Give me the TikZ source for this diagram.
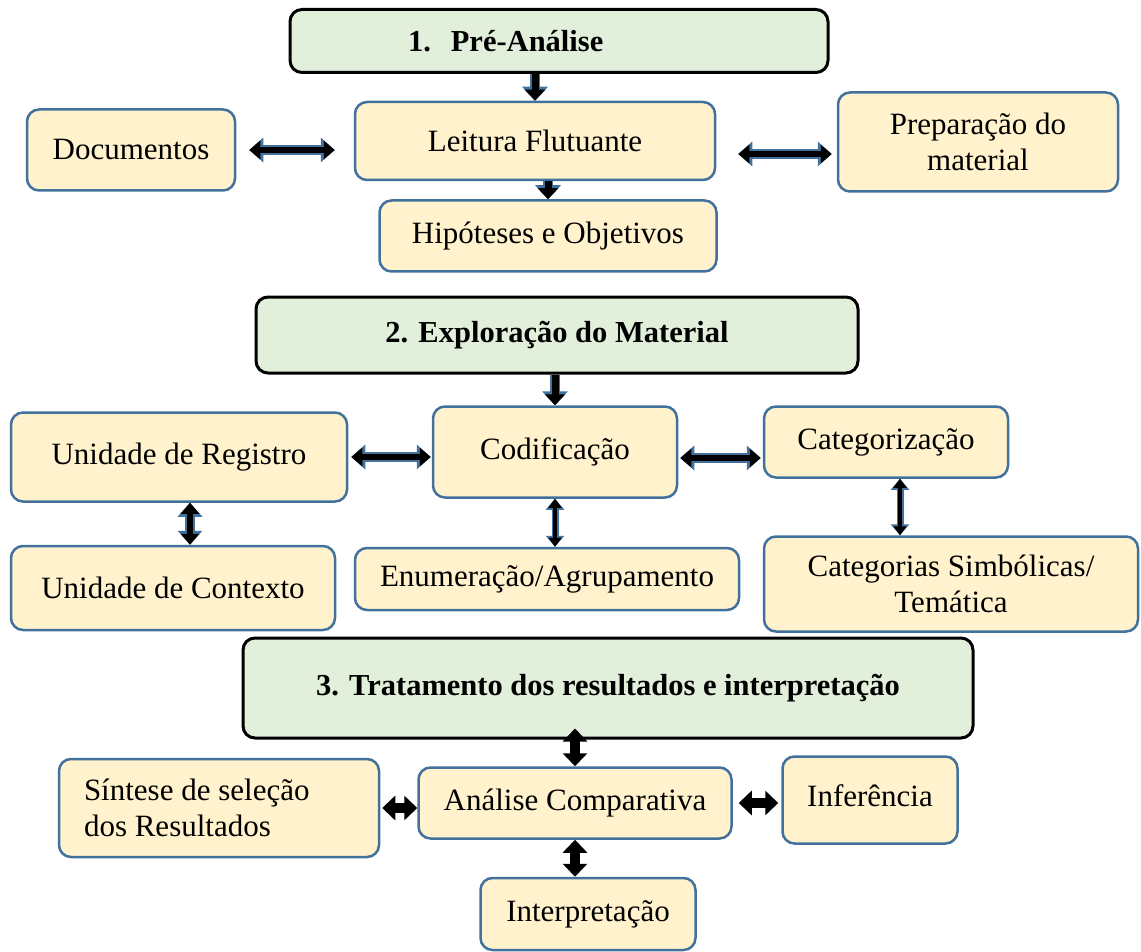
\documentclass[tikz,border=0pt]{standalone}
\usepackage{fontspec}
\setmainfont{Liberation Serif}
\usetikzlibrary{arrows.meta}
\definecolor{boxblue}{HTML}{41719C}
\definecolor{boxfill}{HTML}{FFF2CC}
\definecolor{phasefill}{HTML}{E2EFDA}
\tikzset{
  item/.style={rectangle, rounded corners=12pt, draw=boxblue, line width=2.5pt, fill=boxfill, align=center, inner sep=0pt, font=\fontsize{31}{36}\selectfont},
  phase/.style={rectangle, rounded corners=12pt, draw=black, line width=3pt, fill=phasefill, align=center, inner sep=0pt, font=\fontsize{30.5}{36}\selectfont\bfseries},
  both/.style={line width=6pt, {Triangle[width=18pt,length=11pt]}-{Triangle[width=18pt,length=11pt]},
    preaction={draw=boxblue, line width=9.5pt, {Triangle[width=24pt,length=14pt]}-{Triangle[width=24pt,length=14pt]}}},
  thin both/.style={line width=3.5pt, {Triangle[width=13pt,length=9pt]}-{Triangle[width=13pt,length=9pt]},
    preaction={draw=boxblue, line width=7pt, {Triangle[width=18pt,length=11pt]}-{Triangle[width=18pt,length=11pt]}}},
  down/.style={line width=7pt, -{Triangle[width=20pt,length=11pt]},
    preaction={draw=boxblue, line width=10pt, -{Triangle[width=25pt,length=14pt]}}},
  solid both/.style={line width=10pt, {Triangle[width=24pt,length=13pt]}-{Triangle[width=24pt,length=13pt]}}
}
\begin{document}
\begin{tikzpicture}[x=1pt, y=-1pt]
\useasboundingbox (0,0) rectangle (1141,952);
% 1. Pre-analise
\node (pre) [phase, minimum width=538pt, minimum height=63pt, text width=538pt, align=left] at (559,41) {\hspace*{118pt}1.\hspace{20pt}Pré-Análise};
\node (leitura) [item, minimum width=360pt, minimum height=78pt] at (535,141) {Leitura Flutuante};
\node (docs) [item, minimum width=208pt, minimum height=81pt] at (131,150) {Documentos};
\node (prep) [item, minimum width=280pt, minimum height=99pt] at (978,142) {Preparação do\\material};
\node (hipo) [item, minimum width=337pt, minimum height=71pt] at (548,236) {Hipóteses e Objetivos};
% 2. Exploracao
\node (expl) [phase, minimum width=602pt, minimum height=76pt] at (557,335) {2. Exploração do Material};
\node (codif) [item, minimum width=244pt, minimum height=91pt] at (555,452) {Codificação};
\node (ureg) [item, minimum width=336pt, minimum height=89pt] at (179,457) {Unidade de Registro};
\node (categ) [item, minimum width=244pt, minimum height=71pt] at (886,442) {Categorização};
\node (ucont) [item, minimum width=324pt, minimum height=84pt] at (173,588) {Unidade de Contexto};
\node (enum) [item, minimum width=384pt, minimum height=62pt] at (547,579) {Enumeração/Agrupamento};
\node (csimb) [item, minimum width=374pt, minimum height=95pt] at (951,584) {Categorias Simbólicas/\\Temática};
% 3. Tratamento
\node (trat) [phase, minimum width=730pt, minimum height=100pt] at (608,688) {3. Tratamento dos resultados e interpretação};
\node (anal) [item, minimum width=313pt, minimum height=71pt] at (575,803) {Análise Comparativa};
\node (sint) [item, minimum width=320pt, minimum height=98pt, text width=270pt, align=flush left] at (219,808) {Síntese de seleção\\dos Resultados};
\node (infer) [item, minimum width=175pt, minimum height=87pt] at (870,800) {\raisebox{8pt}{Inferência}};
\node (interp) [item, minimum width=215pt, minimum height=72pt] at (588,914) {Interpretação};

\draw [down] (leitura.north |- pre.south) -- (leitura.north);
\draw [down] (hipo.north |- leitura.south) -- (hipo.north);
\draw [both, shorten <=13pt, shorten >=19pt] (docs.east) -- (docs.east -| leitura.west);
\draw [both, shorten <=22pt, shorten >=5pt] ([yshift=-13pt]leitura.east) -- ([yshift=-13pt]leitura.east -| prep.west);

\draw [down] (codif.north |- expl.south) -- (codif.north);
\draw [both, shorten <=3pt, shorten >=1pt] (ureg.east) -- (ureg.east -| codif.west);
\draw [both, shorten <=2pt, shorten >=2pt] ([yshift=-6pt]codif.east) -- ([yshift=-6pt]codif.east -| categ.west);
\coordinate (ru) at ([xshift=11pt]ureg.south);
\draw [both] (ru) -- (ru |- ucont.north);
\draw [thin both] (codif.south) -- (codif.south |- enum.north);
\coordinate (cs) at ([xshift=14pt]categ.south);
\draw [thin both] (cs) -- (cs |- csimb.north);

\draw [solid both, shorten <=-11pt] (anal.north |- trat.south) -- (anal.north);
\draw [solid both, shorten <=2pt] (sint.east) -- (sint.east -| anal.west);
\draw [solid both, shorten <=6pt, shorten >=3pt] (anal.east) -- (anal.east -| infer.west);
\draw [solid both] (anal.south) -- (anal.south |- interp.north);
\end{tikzpicture}
\end{document}
